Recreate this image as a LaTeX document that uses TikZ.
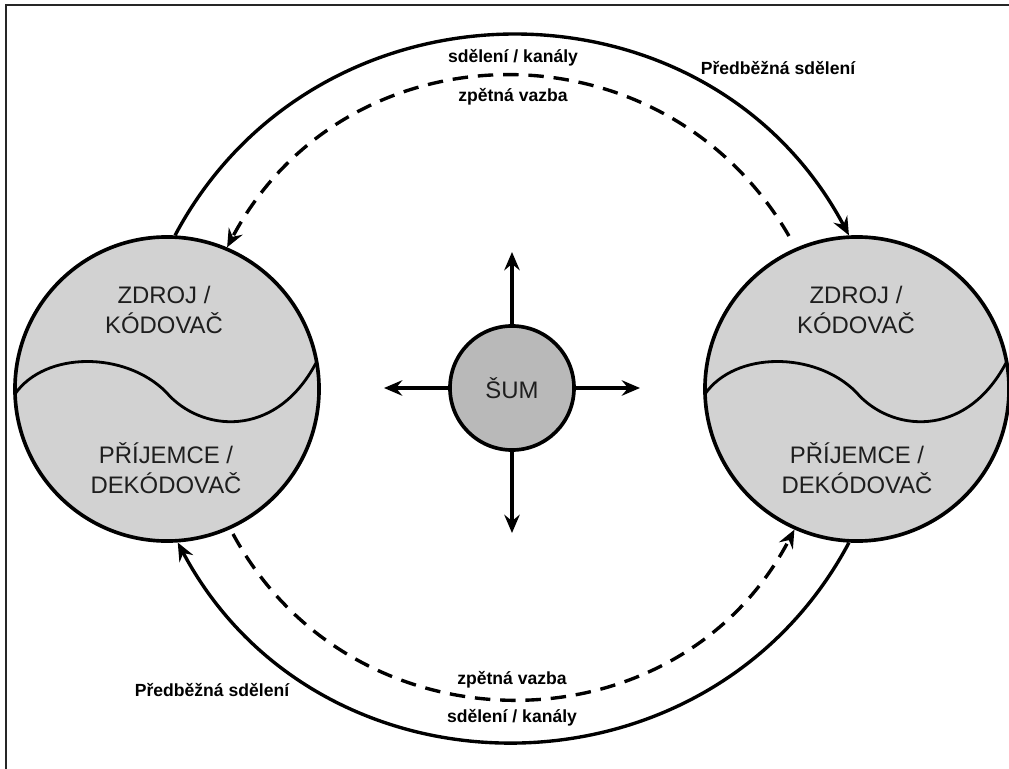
\documentclass[tikz,border=0pt]{standalone}
\usepackage{fontspec}
\setmainfont{Liberation Sans}
\usepackage{tikz}
\usetikzlibrary{arrows.meta}
\definecolor{partygray}{HTML}{D2D2D2}
\definecolor{noisegray}{HTML}{B9B9B9}
\definecolor{textgray}{HTML}{1E1E1E}
\tikzstyle{party}=[shape=circle,draw=black,line width=2.6pt,fill=partygray,minimum size=7.6cm,inner sep=0pt]
\tikzstyle{noise}=[shape=circle,draw=black,line width=2.6pt,fill=noisegray,minimum size=3.1cm,inner sep=0pt,text=textgray,font=\fontsize{17}{21}\selectfont]
\tikzstyle{role}=[align=center,text=textgray,font=\fontsize{17}{21.3}\selectfont]
\tikzstyle{lab}=[font=\bfseries\fontsize{12.5}{15}\selectfont]
\tikzstyle{l}=[draw,line width=2.4pt,-{Stealth[length=13pt,width=11pt,inset=4.5pt]}]
\tikzstyle{fb}=[l,dash pattern=on 11pt off 7pt]
\tikzstyle{wave}=[draw,line width=2pt]

\begin{document}
\begin{tikzpicture}[x=0.025cm,y=-0.025cm]
\useasboundingbox (0,0) rectangle (1009,769);

% frame
\draw[line width=1.4pt,black!85] (6,769) -- (6,5) -- (1009,5);

% participants
\node[party] (zl) at (167,389) {};
\node[party] (zr) at (857,389) {};
\node[noise] (sum) at (512,388) {ŠUM};

% waves
\begin{scope}[shift={(zl)}]
\path[wave] (-152,5) .. controls (-122,-38) and (-42,-38) .. (-1,3)
  .. controls (33,43) and (108,51) .. (149,-26);
\end{scope}
\begin{scope}[shift={(zr)}]
\path[wave] (-152,5) .. controls (-122,-38) and (-42,-38) .. (-1,3)
  .. controls (33,43) and (108,51) .. (149,-26);
\end{scope}

% roles
\node[role] (srcl) at (164,310) {ZDROJ /\\KÓDOVAČ};
\node[role] (rcvl) at (166,468) {PŘÍJEMCE /\\DEKÓDOVAČ};
\node[role] (srcr) at (856,310) {ZDROJ /\\KÓDOVAČ};
\node[role] (rcvr) at (857,468) {PŘÍJEMCE /\\DEKÓDOVAČ};

% labels
\node[lab] (chant) at (513,58) {sdělení / kanály};
\node[lab] (fbt) at (513,97) {zpětná vazba};
\node[lab] (pret) at (778,68) {Předběžná sdělení};
\node[lab] (fbb) at (512,680) {zpětná vazba};
\node[lab] (chanb) at (512,718) {sdělení / kanály};
\node[lab] (preb) at (212,690) {Předběžná sdělení};

% free ends
\coordinate (up) at (512,252);
\coordinate (down) at (512,533);
\coordinate (left) at (384,388);
\coordinate (right) at (640,388);
\coordinate (fbtr) at (789,236);
\coordinate (fbbl) at (233,534);

%paths
\path [l] (sum.north) -- (up);
\path [l] (sum.south) -- (down);
\path [l] (sum.west) -- (left);
\path [l] (sum.east) -- (right);

\path [l] (zl.87) to[bend left=62,looseness=1.15] (zr.93);
\path [l] (zr.267) to[bend left=62,looseness=1.15] (zl.274);
\path [fb] (fbtr) to[bend right=61,looseness=1.15] (zl.67);
\path [fb] (fbbl) to[bend right=62,looseness=1.15] (zr.246);

\end{tikzpicture}
\end{document}
